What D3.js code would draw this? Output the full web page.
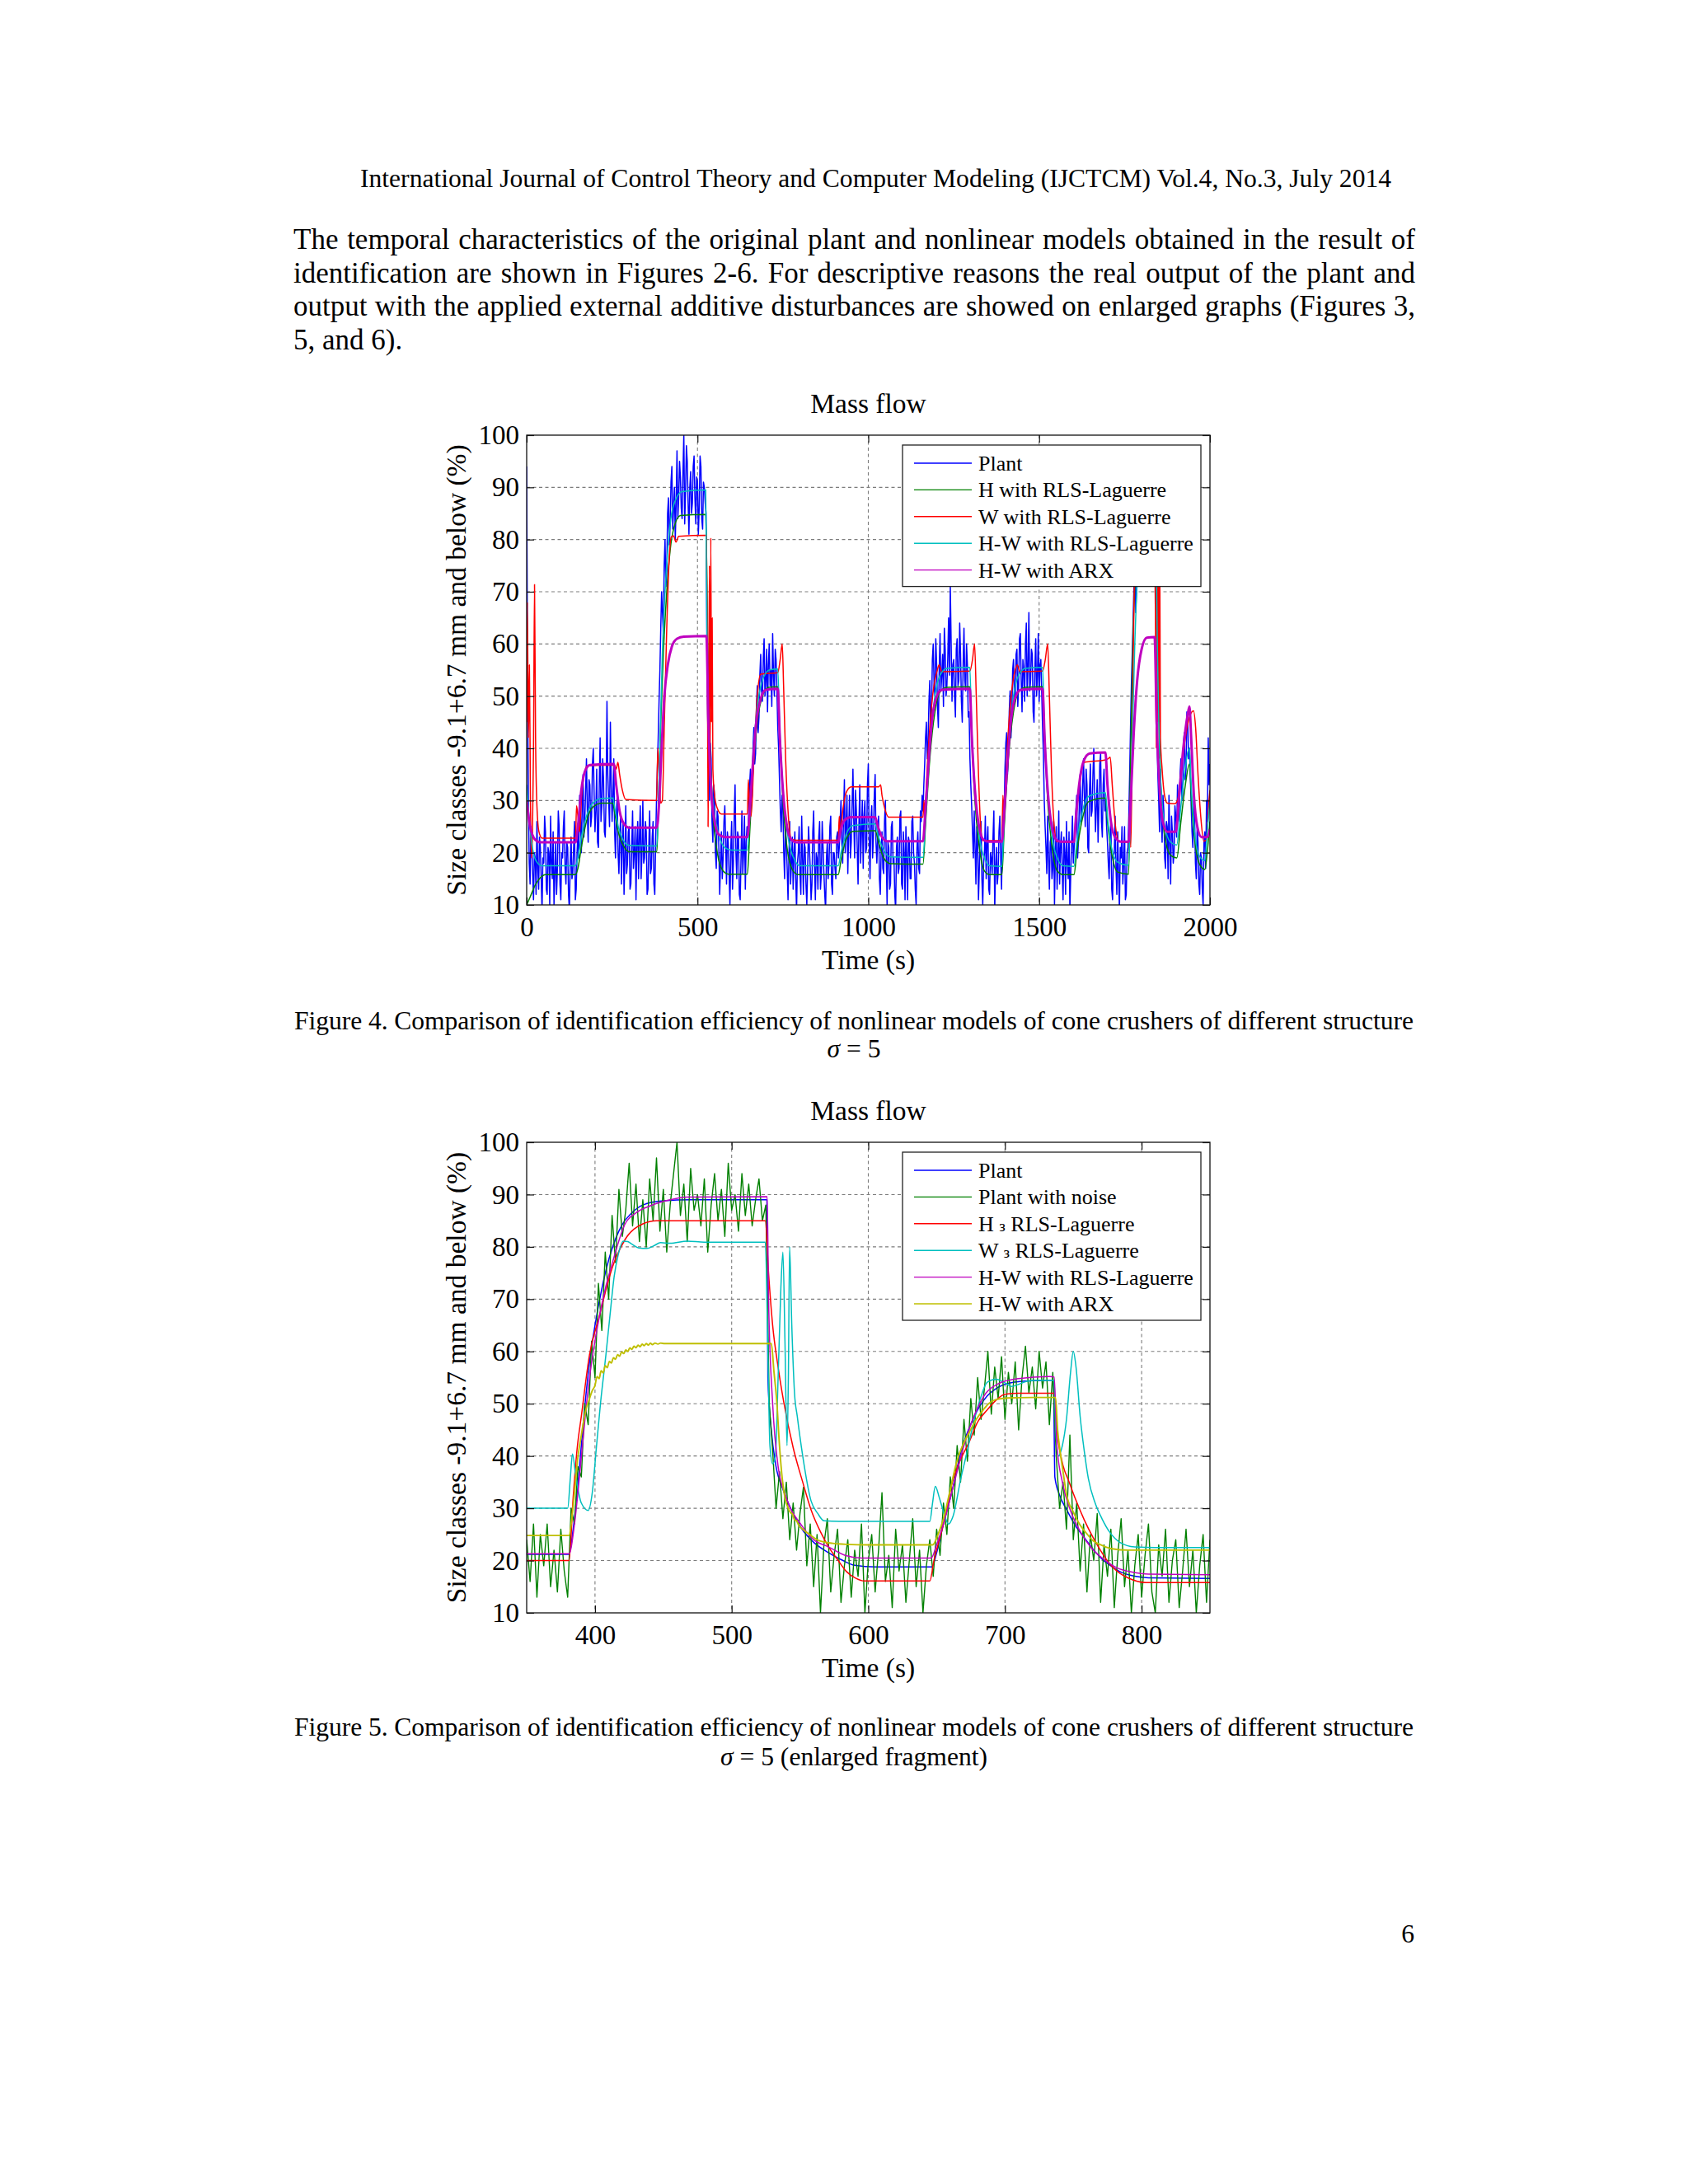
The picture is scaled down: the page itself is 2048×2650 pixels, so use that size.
<!DOCTYPE html>
<html><head><meta charset="utf-8">
<script src="https://cdn.jsdelivr.net/npm/d3@7"></script>
<style>
html,body{margin:0;padding:0;background:#fff;}
svg{display:block;}
</style></head><body>
<svg id="page" width="2048" height="2650"></svg>
<script>
// ---------------- text content ----------------
const headerText = "International Journal of Control Theory and Computer Modeling (IJCTCM) Vol.4, No.3, July 2014";
const paraLines = [
  "The temporal characteristics of the original plant and nonlinear models obtained in the result of",
  "identification are shown in Figures 2-6. For descriptive reasons the real output of the plant and",
  "output with the applied external additive disturbances are showed on enlarged graphs (Figures 3,",
  "5, and 6)."
];
const fig4Caption = ["Figure 4. Comparison of identification efficiency of nonlinear models of cone crushers of different structure", "σ = 5"];
const fig5Caption = ["Figure 5. Comparison of identification efficiency of nonlinear models of cone crushers of different structure", "σ = 5 (enlarged fragment)"];
const pageNumber = "6";
const chartTitle = "Mass flow";
const xLabel = "Time (s)";
const yLabel = "Size classes -9.1+6.7 mm and below (%)";

// ---------------- axes ----------------
const yTicks = [10, 20, 30, 40, 50, 60, 70, 80, 90, 100];
const f4XTicks = [0, 500, 1000, 1500, 2000];
const f5XTicks = [400, 500, 600, 700, 800];

const f4Legend = ["Plant", "H with RLS-Laguerre", "W with RLS-Laguerre", "H-W with RLS-Laguerre", "H-W with ARX"];
const f5Legend = ["Plant", "Plant with noise", "H з RLS-Laguerre", "W з RLS-Laguerre", "H-W with RLS-Laguerre", "H-W with ARX"];

// ---------------- Figure 4 data ----------------
// Noisy plant output, sampled every 2.5 s from t = 0 s
const f4PlantStart = 0, f4PlantStep = 2.5;
const f4Plant = [
  94,52,30,18,14,25,22,16,11,20,19,12,26,17,13,23,21,15,9,19,18,27,24,13,12,21,20,10,27,18,15,24,10,16,22,12,17,28,25,14,11,20,19,25,28,17,14,22,21,12,9,18,23,15,16,21,26,11,13,20,
  24,19,31,27,20,29,35,23,26,32,38,28,22,34,33,25,27,37,40,31,24,28,36,22,21,33,42,26,29,38,34,24,23,31,49,35,30,25,45,33,26,31,
  38,24,19,27,31,20,16,23,27,14,22,26,12,19,29,16,18,24,25,13,14,21,28,17,20,25,11,22,26,15,23,29,15,20,30,18,19,26,24,12,13,21,28,16,17,23,26,14,12,22,30,36,
  42,49,55,63,70,66,62,75,80,71,74,85,88,79,83,91,94,82,86,90,80,87,97,84,88,95,92,86,84,93,100,83,89,98,95,87,81,90,93,85,87,94,96,88,83,92,91,81,86,96,94,84,82,91,90,87,85,60,
  45,36,30,41,38,26,22,33,31,20,17,28,27,21,12,18,24,15,19,26,29,22,14,24,22,16,10,21,26,13,18,27,33,20,15,24,23,12,11,19,28,16,20,27,13,22,25,23,
  28,33,36,29,31,40,44,37,39,48,52,43,46,54,58,51,49,57,61,50,53,59,47,56,60,52,55,48,62,54,50,59,57,51,44,40,
  34,28,24,31,29,20,15,25,22,17,11,19,26,14,18,23,13,20,24,15,9,18,20,25,16,12,27,19,12,22,21,14,10,17,25,21,17,11,14,24,28,18,11,20,19,13,23,26,13,16,26,21,16,12,9,19,22,15,18,25,27,14,12,20,20,17,15,23,24,19,
  21,26,30,22,18,27,34,20,25,31,16,24,31,19,22,29,36,26,19,32,28,21,14,25,33,18,24,30,17,27,30,20,21,33,37,23,15,26,29,19,23,31,35,22,
  18,23,27,15,12,20,24,17,16,26,30,19,10,22,21,13,14,25,26,18,19,12,9,21,23,16,17,27,28,14,13,24,20,11,25,19,11,23,22,15,15,26,27,20,18,13,10,21,24,17,16,28,26,31,
  28,33,37,42,45,38,41,49,53,44,47,57,60,52,50,61,56,48,44,55,62,51,54,58,48,63,59,50,52,57,65,54,71,60,49,56,57,50,46,59,61,52,53,64,58,49,45,56,63,53,51,60,56,46,47,38,
  33,29,24,19,28,21,14,25,22,11,17,24,26,15,10,18,20,27,15,22,25,13,12,20,19,16,23,28,9,17,21,14,16,24,27,19,13,25,
  30,27,36,41,43,35,39,47,51,42,46,55,57,50,49,58,59,48,52,61,62,53,47,57,55,49,60,64,50,56,66,51,53,59,58,47,45,55,61,50,54,62,49,56,57,51,44,39,
  30,25,21,16,27,19,13,22,23,15,17,26,10,20,25,13,19,28,14,21,24,17,11,23,20,12,26,18,15,24,9,16,22,27,18,21,
  24,28,31,19,22,29,35,26,27,33,38,30,25,36,33,21,20,32,37,27,28,35,40,31,24,29,34,22,29,37,39,26,23,33,36,28,30,25,
  22,18,15,23,26,13,11,19,20,27,17,12,24,16,9,21,19,25,14,18,25,11,12,20,21,27,
  35,44,52,58,64,71,75,66,70,79,84,76,80,88,91,82,86,93,95,84,83,90,92,86,88,94,97,87,85,92,90,65,
  42,35,30,24,36,27,22,31,28,19,17,26,25,15,31,22,14,27,24,18,20,29,27,23,
  33,29,26,35,38,30,31,41,43,34,36,47,45,38,40,35,
  29,24,21,30,27,18,15,25,22,14,12,20,19,13,10,22,24,17,30,26,42,33,37
];
const f4H = [[0,10],[10,11.5],[25,13.8],[40,15.2],[55,15.8],[143,15.8],[150,17],[160,21],[175,26],[195,28.8],[220,29.5],[252,29.5],[258,27.5],[268,24],[282,21.5],[300,20.2],[381,20.2],[386,30],[393,46],[400,58],[410,70],[420,78],[432,82.5],[450,84.6],[524,84.8],[530,60],[537,40],[545,28],[558,20],[575,16.5],[590,15.9],[646,15.9],[653,24],[663,36],[675,45],[690,50],[708,51.7],[735,51.8],[741,42],[750,30],[762,21],[780,16.5],[795,15.8],[912,15.8],[920,18.5],[935,22.5],[955,24.1],[1020,24.2],[1030,22],[1045,19],[1065,17.9],[1160,17.8],[1168,26],[1180,38],[1195,47],[1210,50.8],[1230,51.7],[1297,51.8],[1303,42],[1312,30],[1325,21],[1340,16.5],[1355,15.8],[1391,15.8],[1398,25],[1410,38],[1425,47],[1440,50.8],[1460,51.7],[1510,51.8],[1516,42],[1525,30],[1538,21],[1553,16.5],[1570,15.8],[1602,15.8],[1610,20],[1625,26],[1645,29.8],[1694,30.5],[1700,26],[1712,20],[1730,16.3],[1762,15.9],[1768,40],[1775,62],[1785,76],[1800,83],[1820,84.8],[1840,85],[1846,60],[1855,35],[1868,23],[1885,19.5],[1903,19],[1915,26],[1928,33],[1940,37],[1946,30],[1958,21],[1972,17.5],[1985,16.8],[1992,20],[2000,26]];
const f4W = [[0,45],[2,68],[5,42],[8,56],[11,30],[14,19],[17,24],[20,40],[23,71.4],[26,42],[30,29],[36,24],[45,22.8],[143,22.8],[146,29],[150,27],[155,24],[160,30],[168,35],[178,36.7],[257,36.8],[262,36],[267,37.3],[272,35],[280,32],[290,30.2],[380,30],[384,40],[388,35],[392,29.5],[397,30],[403,45],[410,63],[417,76],[423,80.5],[430,80.7],[437,79.5],[445,80.6],[526,80.8],[529,60],[531,25],[533,50],[535,75],[537,35],[539,80.3],[541,45],[543,65],[545,36],[550,31],[558,28.5],[570,27.4],[646,27.4],[649,34],[653,28],[657,27],[665,38],[675,50],[685,54.2],[735,54.5],[742,57],[748,60],[752,52],[758,38],[766,27],[775,22.6],[790,22.4],[912,22.4],[915,27],[918,24],[925,28],[935,31.5],[950,32.6],[1030,32.6],[1036,33],[1040,31],[1048,28.5],[1060,26.8],[1160,26.8],[1163,30],[1166,26],[1170,33],[1180,44],[1192,52],[1202,55],[1207,56],[1215,54.7],[1297,54.8],[1305,57],[1311,60],[1316,50],[1322,36],[1328,26],[1335,22.3],[1391,22.3],[1394,31],[1397,27],[1405,38],[1418,50],[1430,55],[1436,56],[1444,54.7],[1510,54.8],[1518,57],[1525,60],[1530,50],[1536,36],[1543,26],[1552,22.1],[1602,22],[1610,28],[1620,34],[1632,37.3],[1694,37.8],[1702,38],[1708,38.3],[1714,33],[1722,26],[1734,22.1],[1762,22],[1765,28],[1768,21],[1771,32],[1775,55],[1780,75],[1788,81],[1838,81],[1841,60],[1843,40],[1845,85],[1847,45],[1849,95],[1851,38],[1853,80],[1855,42],[1860,36],[1867,31],[1875,29.5],[1898,29.4],[1905,30],[1915,35],[1928,42],[1940,46],[1952,47.2],[1958,44],[1965,35],[1973,27],[1982,22.2],[1990,22.5],[1995,28],[2000,32]];
const f4HW = [[0,33],[8,26],[18,20.5],[30,18.2],[45,17.5],[143,17.5],[150,19],[160,23],[175,27],[195,29.6],[220,30.4],[252,30.5],[258,28.5],[268,25],[282,22.5],[300,21.4],[381,21.3],[388,35],[397,58],[405,70],[413,78],[422,84],[435,87.5],[455,89.2],[524,89.5],[528,60],[535,40],[545,30],[560,24],[580,21],[600,20.5],[646,20.5],[652,26],[662,38],[675,48],[690,53],[710,55],[735,55.2],[740,45],[750,32],[765,23],[785,18.5],[800,17.5],[912,17.5],[920,20],[935,23.5],[955,25.2],[1020,25.5],[1030,23],[1045,20.5],[1065,19.2],[1160,19.1],[1168,27],[1180,40],[1195,50],[1210,54],[1230,55.3],[1297,55.5],[1302,45],[1312,32],[1325,23],[1340,19],[1355,17.5],[1391,17.4],[1398,27],[1410,40],[1425,50],[1440,54],[1460,55.3],[1510,55.5],[1515,45],[1525,32],[1538,23],[1553,19],[1570,17.5],[1602,17.4],[1610,22],[1625,27.5],[1645,30.8],[1694,31.5],[1700,27],[1712,21],[1730,18.2],[1762,17.6],[1770,35],[1780,60],[1792,78],[1805,86],[1825,89.3],[1840,89.5],[1846,60],[1855,35],[1868,25],[1885,22],[1903,21.5],[1912,27],[1925,35],[1940,40],[1945,33],[1955,24],[1968,19.5],[1985,18.5],[1992,24],[2000,30]];
const f4ARX = [[0,30],[10,25],[25,22.5],[40,22],[143,22],[150,25],[160,32],[170,35.5],[185,36.8],[255,37],[262,33],[272,28],[285,25.5],[300,24.8],[381,24.8],[388,30],[395,40],[403,50],[413,56],[425,59.5],[440,61],[460,61.4],[526,61.5],[532,45],[540,32],[550,26],[562,23.5],[580,23],[646,23],[653,28],[662,37],[672,45],[685,49.5],[700,51.2],[735,51.4],[741,42],[750,32],[762,25],[775,22.5],[790,22],[912,22],[918,24],[930,26.2],[950,26.8],[1020,26.8],[1028,25],[1040,23],[1055,22.2],[1160,22.2],[1167,28],[1176,37],[1186,45],[1198,49.5],[1215,51.2],[1297,51.4],[1303,42],[1312,32],[1324,25],[1337,22.5],[1352,22.1],[1391,22.1],[1398,28],[1407,37],[1417,45],[1429,49.5],[1446,51.2],[1510,51.4],[1516,42],[1525,32],[1537,25],[1550,22.5],[1565,22.1],[1602,22.1],[1608,27],[1617,33],[1630,37.5],[1648,39],[1694,39.2],[1700,33],[1710,26],[1722,23],[1740,22.1],[1762,22.1],[1768,30],[1777,43],[1787,53],[1800,59],[1815,61.2],[1838,61.3],[1844,45],[1852,33],[1862,26],[1875,24],[1900,24],[1910,31],[1922,40],[1935,46.5],[1940,48],[1945,42],[1953,31],[1963,25],[1975,23],[1992,23],[2000,24.5]];

// ---------------- Figure 5 data (enlarged fragment 350-850 s) ----------------
const f5Plant = [[350,21.2],[381,21.2],[384,26],[388,36],[392,48],[396,58],[400,65],[405,72],[410,77.5],[415,81.5],[420,84.3],[427,86.5],[435,88],[450,88.8],[470,89],[525.8,89],[526.5,55],[529,45],[532,38.7],[538,33.3],[545,29],[551,26.2],[560,23.5],[571,21.5],[580,20.2],[590,19.1],[605,18.8],[646.5,18.8],[650,21.5],[655,27],[661,33],[668,41],[674,45.5],[681,49.3],[687,51.5],[693.5,52.9],[706,54.1],[720,54.4],[735.5,54.5],[736.5,36],[740,32.5],[745,29.8],[752,26.5],[758,24.4],[765,22],[771,20.3],[778,18.9],[784,17.9],[795,17],[805,16.7],[850,16.6]];
// Plant with noise, sampled every 2.5 s from t = 350 s
const f5NoisyStart = 350, f5NoisyStep = 2.5;
const f5Noisy = [
  24,16,27,13,25,19,27,15,22,14,26,18,13,
  30,27,38,36,50,46,62,55,73,64,79,70,86,77,91,82,87,96,84,92,
  81,89,80,93,85,97,83,91,79,88,94,100,86,92,81,95,87,90,84,93,79,88,94,85,91,82,96,87,90,83,94,86,92,84,89,93,85,88,
  50,41,30,37,28,35,24,31,22,29,34,19,27,15,25,10,23,28,14,21,26,12,19,24,13,22,17,27,10,20,25,14,22,33,16,21,11,26,18,23,12,20,28,15,22,10,19,24,
  17,26,21,31,25,36,30,42,35,47,39,51,44,55,47,53,60,48,57,51,59,47,56,50,58,45,55,61,52,57,49,60,53,58,46,56,
  40,30,35,26,44,24,31,18,27,14,25,20,29,12,23,17,26,11,21,28,15,22,10,19,25,13,21,27,14,10,23,17,26,12,20,24,11,18,26,15,22,10,19,25,12,24
];
const f5H = [[350,20],[381,20],[384,32],[387,41.6],[390,47.6],[396,59.4],[403,66.6],[412.6,76],[422,81.4],[435,84.4],[445,85],[524.6,85],[527,75],[530,65],[534,57],[538,50.5],[545,41.6],[552,35],[558,29.8],[565,25.5],[571,22.6],[578,20],[584,17.9],[591,16.6],[597,16.1],[645,16.1],[648,20],[652,24],[656,28],[661,34.5],[667,39],[674,42.8],[680,46.5],[687,48.8],[694,50.8],[700,51.8],[710,52],[736,52],[738,45],[742,38.7],[747,35],[752,31.5],[758,27.8],[764.5,24.4],[771,21.5],[777.5,19.1],[784,17.6],[790,16.7],[803,15.8],[850,15.8]];
const f5W = [[350,30],[380,30],[382,36],[383.5,40.4],[386,36],[390,31],[395,29.6],[398,33],[401,41.6],[404,50],[408,59.4],[411,67],[414,74.3],[417,78.5],[420.7,81.1],[424,81],[427,80.5],[432,79.8],[438,79.7],[443,80.2],[448,80.8],[455,80.7],[467.5,81.1],[480,80.9],[524.6,80.9],[526.5,60],[528,42],[530,38.5],[532,40],[534,55],[536,72],[537.5,79],[539,62],[540.5,42],[541.5,55],[542.4,80],[544,65],[546,52],[548,47.6],[552,40],[558,31.5],[563,29],[567.6,27.6],[580,27.5],[645,27.5],[647,31],[649,34.2],[652,32],[656,28.5],[658.6,27],[662,28.5],[667.7,35.7],[672,40.5],[677,46.4],[682,51],[687,54.1],[693.5,54.7],[700,54],[705,53.3],[710,53.7],[716,54.3],[725,54.5],[736,54.5],[737,46],[739,40],[742,42],[745,47],[748,56],[750,60],[752,57],[755,47.6],[758,41],[761,35.7],[766,31],[771,28],[777,25.3],[784,23.5],[795,22.6],[810,22.5],[850,22.5]];
const f5HW = [[350,21.3],[381,21.3],[385,27],[389,37],[393,48],[397,57],[402,65],[408,72.5],[413,77.2],[422,84.4],[430,86.5],[441,87.9],[455,89],[467,89.5],[526,89.6],[527,70],[530,50],[534,38],[540,32],[551,26.8],[560,24],[571,22.6],[583,21],[595,20.5],[646,20.5],[650,23],[656,28],[663,35],[670,42],[678,48],[686,52],[695,53.8],[710,54.8],[733,55.2],[736,55.1],[738,42],[742,35],[748,29.5],[755,25.6],[763,22.5],[772,20.3],[782,18.6],[793,17.8],[805,17.4],[850,17.3]];
const f5ARX = [[350,24.8],[381,24.8],[383,28],[385,33],[387,38.7],[390,44],[393,48.5],[396,51],[398,52.5],[400,53.5],[401.5,55.2],[403,54.8],[404.5,56.3],[406,55.9],[407.5,57.3],[409,56.9],[410.5,58.1],[412,57.8],[413.5,58.8],[415,58.5],[416.5,59.4],[418,59.1],[419.5,59.9],[421,59.6],[422.5,60.3],[424,60.0],[425.5,60.7],[427,60.4],[428.5,61.0],[430,60.7],[431.5,61.2],[433,60.9],[434.5,61.4],[436,61.1],[437.5,61.5],[439,61.2],[440.5,61.6],[442,61.3],[444,61.6],[446,61.4],[448,61.6],[451,61.5],[460,61.5],[529,61.5],[531,56],[533,50.5],[535,42],[537,35.7],[539,32],[541.7,29.8],[543,29.2],[544.5,28.9],[546,27.8],[547.5,27.6],[549,26.8],[551,26.2],[557,25],[564,23.8],[574,23.3],[584,23.1],[600,23],[647,23],[651,25],[655,28],[659.5,33],[664.5,38.7],[669,42],[674,44.6],[679,47],[684,48.8],[688,50],[693.5,50.8],[702,51.1],[720,51.2],[737,51.2],[738.5,45],[740,41.6],[742.5,37],[745,32.7],[750,29.3],[755,26.8],[760,25.1],[764.5,23.8],[771,22.9],[777.5,22.3],[790,22],[850,22]];

// MATLAB (pre-2014b) default colour order
const colBlue = "#0000ff", colGreen = "#008000", colRed = "#ff0000", colCyan = "#00bfbf", colMagenta = "#bf00bf", colYellow = "#bfbf00";

// ---------------- drawing ----------------
const SERIF = '"Liberation Serif","Times New Roman",Times,serif';
const svg = d3.select("#page");
svg.append("rect").attr("width", 2048).attr("height", 2650).attr("fill", "#fff");

function addText(x, y, str, size, opts = {}) {
  const t = svg.append("text").attr("x", x).attr("y", y)
    .attr("font-family", SERIF).attr("font-size", size).attr("fill", "#000")
    .attr("text-anchor", opts.anchor || "start");
  if (opts.len) t.attr("textLength", opts.len).attr("lengthAdjust", "spacing");
  const parts = str.split("σ");
  parts.forEach((p, i) => {
    if (i > 0) t.append("tspan").attr("font-style", "italic").text("σ");
    if (p) t.append("tspan").text(p);
  });
  return t;
}
// justified line: stretch the word gaps only
function addJustified(x, y, str, size, width) {
  const t = addText(x, y, str, size);
  const natural = t.node().getComputedTextLength();
  const gaps = (str.match(/ /g) || []).length;
  if (gaps > 0 && natural < width) t.attr("word-spacing", (width - natural) / gaps);
  else if (natural > width) t.attr("textLength", width).attr("lengthAdjust", "spacing");
  return t;
}

// header + paragraph
addText(437, 227, headerText, 31.6, { len: 1251 });
const paraBase = [302, 342.5, 383, 423.5];
paraLines.forEach((l, i) => {
  if (i < 3) addJustified(356, paraBase[i], l, 35, 1361);
  else addText(356, paraBase[i], l, 35);
});

function drawChart(o) {
  const right = o.left + o.width, bottom = o.top + o.height;
  const x = d3.scaleLinear().domain(o.xDomain).range([o.left, right]);
  const y = d3.scaleLinear().domain([10, 100]).range([bottom, o.top]);
  const g = svg.append("g");

  // grid
  const gx = o.xTicks.filter(t => t > o.xDomain[0] && t < o.xDomain[1]);
  const gy = yTicks.filter(t => t > 10 && t < 100);
  const gridStyle = s => s.attr("stroke", "#7c7c7c").attr("stroke-width", 1.1).attr("stroke-dasharray", "4,3.5");
  g.append("g").selectAll("line").data(gx).join("line")
    .attr("x1", d => x(d)).attr("x2", d => x(d)).attr("y1", o.top).attr("y2", bottom).call(gridStyle);
  g.append("g").selectAll("line").data(gy).join("line")
    .attr("y1", d => y(d)).attr("y2", d => y(d)).attr("x1", o.left).attr("x2", right).call(gridStyle);

  // series
  g.append("clipPath").attr("id", o.id + "clip").append("rect")
    .attr("x", o.left).attr("y", o.top).attr("width", o.width).attr("height", o.height);
  const sg = g.append("g").attr("clip-path", `url(#${o.id}clip)`);
  o.series.forEach(s => {
    let d;
    if (s.values) {
      d = d3.line().x((v, i) => x(s.t0 + i * s.dt)).y(v => y(v))(s.values);
    } else {
      d = d3.line().x(p => x(p[0])).y(p => y(p[1])).curve(d3.curveMonotoneX)(s.points);
    }
    sg.append("path").attr("d", d).attr("fill", "none").attr("stroke", s.color)
      .attr("stroke-width", s.width).attr("stroke-linejoin", "round");
  });

  // axes (inward ticks on all four sides)
  const styleAxis = a => {
    a.select(".domain").remove();
    a.attr("font-family", SERIF).attr("font-size", 33);
    a.selectAll("line").attr("stroke", "#111").attr("stroke-width", 1.2);
    a.selectAll("text").attr("fill", "#000");
  };
  g.append("g").attr("transform", `translate(0,${bottom})`)
    .call(d3.axisBottom(x).tickValues(o.xTicks).tickSizeInner(-9).tickSizeOuter(0).tickPadding(14.5).tickFormat(d3.format("d")))
    .call(styleAxis);
  g.append("g").attr("transform", `translate(0,${o.top})`)
    .call(d3.axisTop(x).tickValues(o.xTicks).tickSizeInner(-9).tickSizeOuter(0).tickFormat(() => ""))
    .call(styleAxis);
  g.append("g").attr("transform", `translate(${o.left},0)`)
    .call(d3.axisLeft(y).tickValues(yTicks).tickSizeInner(-9).tickSizeOuter(0).tickPadding(9).tickFormat(d3.format("d")))
    .call(styleAxis);
  g.append("g").attr("transform", `translate(${right},0)`)
    .call(d3.axisRight(y).tickValues(yTicks).tickSizeInner(-9).tickSizeOuter(0).tickFormat(() => ""))
    .call(styleAxis);

  // frame
  g.append("rect").attr("x", o.left).attr("y", o.top).attr("width", o.width).attr("height", o.height)
    .attr("fill", "none").attr("stroke", "#111").attr("stroke-width", 1.3);

  // title and labels
  addText((o.left + right) / 2, o.top - 27, chartTitle, 33.5, { anchor: "middle" });
  addText((o.left + right) / 2, bottom + 78, xLabel, 33.5, { anchor: "middle" });
  svg.append("text").attr("transform", `translate(565,${(o.top + bottom) / 2}) rotate(-90)`)
    .attr("text-anchor", "middle").attr("font-family", SERIF).attr("font-size", 33.5).attr("fill", "#000")
    .text(yLabel);

  // legend
  const n = o.legend.length, sp = 32.4;
  const lx = right - 373, ly = o.top + 12, lw = 362, lh = 42 + (n - 1) * sp;
  const lg = g.append("g");
  lg.append("rect").attr("x", lx).attr("y", ly).attr("width", lw).attr("height", lh)
    .attr("fill", "#fff").attr("stroke", "#222").attr("stroke-width", 1.3);
  o.legend.forEach((name, i) => {
    const cy = ly + 22 + i * sp;
    lg.append("line").attr("x1", lx + 14).attr("x2", lx + 84).attr("y1", cy).attr("y2", cy)
      .attr("stroke", o.series[i].color).attr("stroke-width", 1.4);
    const t = lg.append("text").attr("x", lx + 92).attr("y", cy + 9)
      .attr("font-family", SERIF).attr("font-size", 26).attr("fill", "#000");
    const parts = name.split("з");
    parts.forEach((p, k) => {
      if (k > 0) t.append("tspan").attr("font-size", 19).text("з");
      t.append("tspan").text(p);
    });
  });
}

drawChart({
  id: "f4", left: 639, top: 528, width: 829, height: 570, xDomain: [0, 2000], xTicks: f4XTicks,
  legend: f4Legend,
  series: [
    { values: f4Plant, t0: f4PlantStart, dt: f4PlantStep, color: colBlue, width: 1.5 },
    { points: f4H, color: colGreen, width: 1.5 },
    { points: f4W, color: colRed, width: 1.5 },
    { points: f4HW, color: colCyan, width: 1.5 },
    { points: f4ARX, color: colMagenta, width: 3 }
  ]
});
drawChart({
  id: "f5", left: 639, top: 1386, width: 829, height: 571, xDomain: [350, 850], xTicks: f5XTicks,
  legend: f5Legend,
  series: [
    { points: f5Plant, color: colBlue, width: 1.5 },
    { values: f5Noisy, t0: f5NoisyStart, dt: f5NoisyStep, color: colGreen, width: 1.4 },
    { points: f5H, color: colRed, width: 1.5 },
    { points: f5W, color: colCyan, width: 1.5 },
    { points: f5HW, color: colMagenta, width: 1.5 },
    { points: f5ARX, color: colYellow, width: 1.9 }
  ]
});

// captions
addText(1036, 1249, fig4Caption[0], 31.6, { anchor: "middle", len: 1358 });
addText(1036, 1283, fig4Caption[1], 31.6, { anchor: "middle" });
addText(1036, 2106, fig5Caption[0], 31.6, { anchor: "middle", len: 1358 });
addText(1036, 2142, fig5Caption[1], 31.6, { anchor: "middle" });
addText(1716, 2357, pageNumber, 31.6, { anchor: "end" });
</script>
</body></html>
